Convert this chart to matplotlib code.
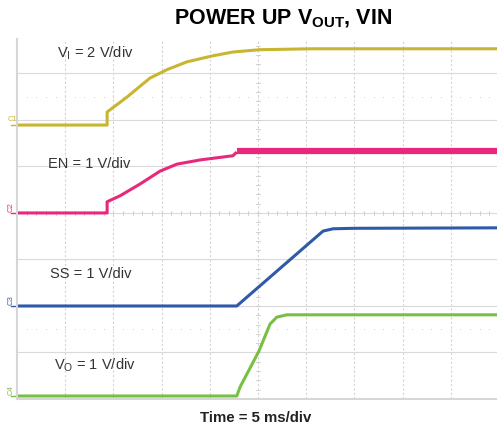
import matplotlib.pyplot as plt
import numpy as np

plt.rcParams['font.family'] = ['Liberation Sans', 'DejaVu Sans']

# scope traces, time and level both in divisions
t_vi = [0.0, 1.87, 1.87, 2.28, 2.76, 3.11, 3.53, 4.07, 4.48, 5.04, 6.14, 9.96]
v_vi = [5.89, 5.89, 6.17, 6.49, 6.90, 7.08, 7.25, 7.38, 7.46, 7.51, 7.53, 7.53]

t_en = [0.0, 1.87, 1.87, 2.14, 2.55, 2.97, 3.32, 3.80, 4.48, 4.56]
v_en = [4.0, 4.0, 4.24, 4.37, 4.62, 4.90, 5.05, 5.14, 5.23, 5.31]
t_en_flat = [4.56, 9.96]
v_en_flat = [5.33, 5.33]

t_ss = [0.0, 4.56, 6.35, 6.56, 7.0, 9.96]
v_ss = [2.0, 2.0, 3.61, 3.66, 3.67, 3.68]

t_vo = [0.0, 4.56, 4.63, 5.02, 5.25, 5.39, 5.60, 9.96]
v_vo = [0.065, 0.065, 0.26, 1.03, 1.61, 1.76, 1.81, 1.81]

labels = ['V$_\\mathregular{I}$ = 2 V/div', 'EN = 1 V/div', 'SS = 1 V/div', 'V$_\\mathregular{O}$ = 1 V/div']
label_x = [0.83, 0.64, 0.68, 0.77]
label_y = [7.45, 5.07, 2.70, 0.74]
channels = ['C1', 'C2', 'C3', 'C4']
levels = [5.89, 4.0, 2.0, 0.065]
colors = ['#c8b532', '#e8287c', '#2f5aa8', '#78c043']

fig = plt.figure(figsize=(4.97, 4.31), dpi=100)
ax = fig.add_axes([0.0342, 0.0719, 0.9658, 0.8353])
ax.set_xlim(0, 9.96)
ax.set_ylim(0, 7.74)

# graticule
for x in range(1, 10):
    ax.axvline(x, color='#d4d4d4', lw=0.8, ls=(0, (2, 2)), zorder=0)
for y in range(1, 8):
    ax.axhline(y, color='#dadada', lw=0.8, zorder=0)
for y in (1.5, 6.5):
    ax.plot(np.arange(0.2, 10, 0.2), [y] * 49, ls='none', marker='s', ms=0.6,
            mew=0, color='#cfcfcf', zorder=0)
# minor ticks on the centre lines
for x in np.arange(0.2, 10, 0.2):
    ax.plot([x, x], [3.96, 4.04], color='#cccccc', lw=0.6, zorder=0)
for y in np.arange(0.2, 7.74, 0.2):
    ax.plot([4.96, 5.04], [y, y], color='#cccccc', lw=0.6, zorder=0)

ax.plot(t_vi, v_vi, color=colors[0], lw=2.2, solid_capstyle='butt')
ax.plot(t_en, v_en, color=colors[1], lw=2.2, solid_capstyle='butt')
ax.plot(t_en_flat, v_en_flat, color=colors[1], lw=4.5, solid_capstyle='butt')
ax.plot(t_ss, v_ss, color=colors[2], lw=2.2, solid_capstyle='butt')
ax.plot(t_vo, v_vo, color=colors[3], lw=2.2, solid_capstyle='butt')

# channel markers on the left edge
for ch, lv, c in zip(channels, levels, colors):
    ax.plot([-0.12, 0.0], [lv, lv], color=c, lw=1.0, clip_on=False)
    if ch == 'C1':
        ax.text(-0.2, lv + 0.07, ch, color=c, fontsize=5.5, ha='left', va='bottom')
    else:
        ax.text(-0.13, lv + 0.04, ch, color=c, fontsize=5.5, rotation=90,
                ha='center', va='bottom')

for lab, lx, ly in zip(labels, label_x, label_y):
    ax.text(lx, ly, lab, fontsize=10.5, color='#333333', ha='left', va='center')

for side in ('top', 'right'):
    ax.spines[side].set_visible(False)
for side in ('left', 'bottom'):
    ax.spines[side].set_color('#d6d6d6')
    ax.spines[side].set_linewidth(1.5)
ax.set_xticks([])
ax.set_yticks([])

fig.text(0.57, 0.955, 'POWER UP V$_\\mathregular{OUT}$, VIN', fontsize=15.5,
         fontweight='bold', ha='center', va='center')
fig.text(0.515, 0.03, 'Time = 5 ms/div', fontsize=10.8, fontweight='bold',
         ha='center', va='center', color='#222222')

fig.savefig('out.png', dpi=100)
